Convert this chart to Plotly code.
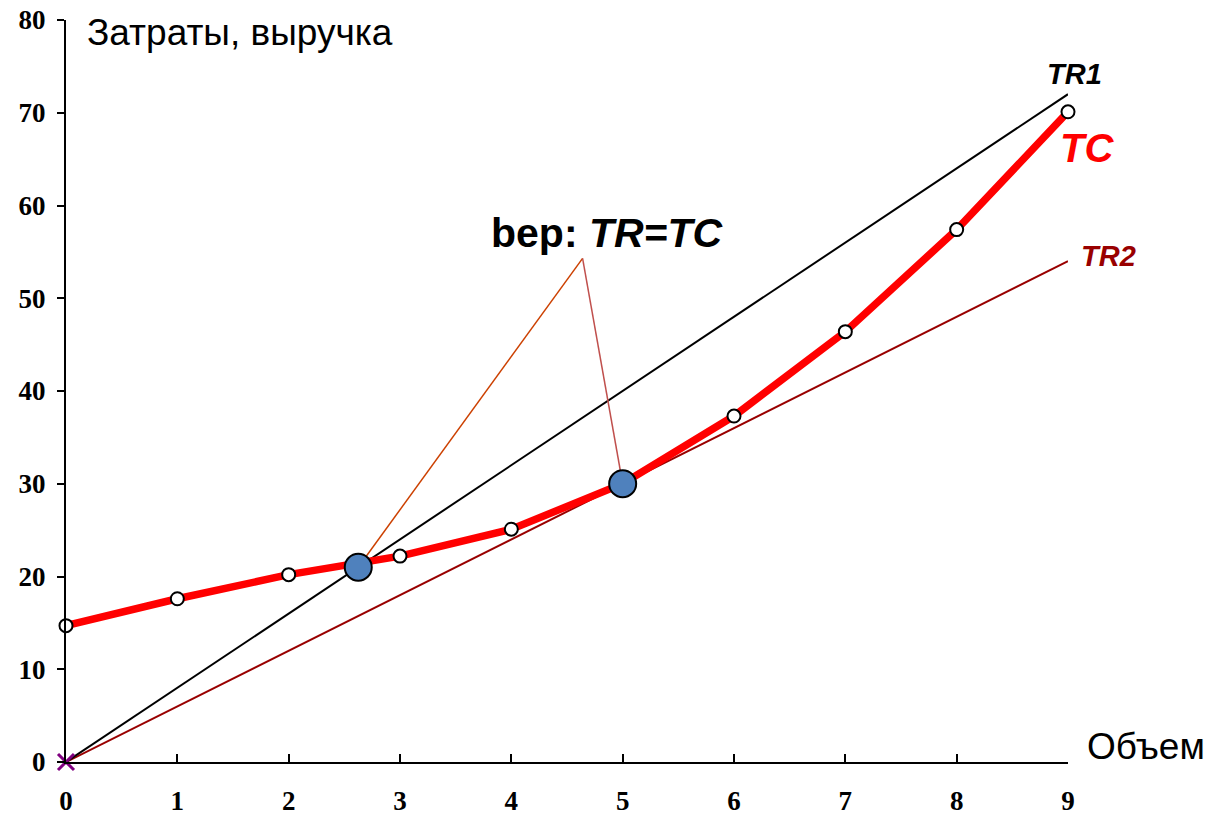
import plotly.graph_objects as go

# Output volume and cost / revenue values
volume = [0, 1, 2, 3, 4, 5, 6, 7, 8, 9]
total_cost = [14.7, 17.6, 20.2, 22.2, 25.1, 30.0, 37.3, 46.4, 57.4, 70.1]
tr1 = [0, 8, 16, 24, 32, 40, 48, 56, 64, 72]
tr2 = [0, 6, 12, 18, 24, 30, 36, 42, 48, 54]

# Break-even points
bep_x = [2.625, 5.0]
bep_y = [21.0, 30.0]

# Label anchor for the pointer lines
label_pt = (4.64, 54.3)

x_ticks = [0, 1, 2, 3, 4, 5, 6, 7, 8, 9]
y_ticks = [0, 10, 20, 30, 40, 50, 60, 70, 80]
X_MAX, Y_MAX = 9, 80

fig = go.Figure()

fig.add_trace(go.Scatter(x=volume, y=tr2, mode="lines",
                         line=dict(color="#990000", width=2), hoverinfo="skip"))
fig.add_trace(go.Scatter(x=volume, y=tr1, mode="lines",
                         line=dict(color="black", width=2), hoverinfo="skip"))
fig.add_trace(go.Scatter(x=volume, y=total_cost, mode="lines+markers",
                         line=dict(color="#FF0000", width=7.5),
                         marker=dict(size=13, color="white",
                                     line=dict(color="black", width=2)),
                         cliponaxis=False))

# Pointer lines from the label to both break-even points
fig.add_trace(go.Scatter(x=[label_pt[0], bep_x[0]], y=[label_pt[1], bep_y[0]],
                         mode="lines", line=dict(color="#CC4000", width=1.5)))
fig.add_trace(go.Scatter(x=[label_pt[0], bep_x[1]], y=[label_pt[1], bep_y[1]],
                         mode="lines", line=dict(color="#C0504D", width=1.5)))

fig.add_trace(go.Scatter(x=bep_x, y=bep_y, mode="markers",
                         marker=dict(size=27, color="#4F81BD",
                                     line=dict(color="black", width=2))))

fig.add_trace(go.Scatter(x=[0], y=[0], mode="markers", cliponaxis=False,
                         marker=dict(symbol="x-thin", size=16,
                                     line=dict(color="#800080", width=3))))

ann_font = "Liberation Sans, Arial, sans-serif"


def label(x, y, text, size, color, anchor="center"):
    # positioned in paper units so labels beyond the axis range still show
    return dict(x=x / X_MAX, y=y / Y_MAX, xref="paper", yref="paper",
                text=text, showarrow=False, xanchor=anchor, yanchor="middle",
                font=dict(size=size, color=color, family=ann_font))


annotations = [
    label(0.17, 78.7, "Затраты, выручка", 37, "black", "left"),
    label(9.15, 1.7, "Объем", 37, "black", "left"),
    label(9.06, 74.2, "<b><i>TR1</i></b>", 29, "black"),
    label(9.17, 66.2, "<b><i>TC</i></b>", 40, "#FF0000"),
    label(9.36, 54.6, "<b><i>TR2</i></b>", 29, "#990000"),
    label(4.86, 57.0, "<b>bep:&nbsp;<i>TR=TC</i></b>", 41, "black"),
]
fig.update_layout(annotations=annotations)

tick_font = dict(family="Liberation Serif, Times New Roman, serif", size=27, color="black")
fig.update_xaxes(range=[0, X_MAX], tickvals=x_ticks, ticktext=[f"<b>{v}</b>" for v in x_ticks],
                 showgrid=False, zeroline=False, showline=True, linecolor="black",
                 linewidth=2, ticks="inside", ticklen=8, tickwidth=2, tickcolor="black",
                 tickfont=tick_font, ticklabelstandoff=14, automargin=False)
fig.update_yaxes(range=[0, Y_MAX], tickvals=y_ticks, ticktext=[f"<b>{v}</b>" for v in y_ticks],
                 showgrid=False, zeroline=False, showline=True, linecolor="black",
                 linewidth=2, ticks="outside", ticklen=7, tickwidth=2, tickcolor="black",
                 tickfont=tick_font, ticklabelstandoff=6, automargin=False)

fig.update_layout(width=1206, height=816, showlegend=False,
                  plot_bgcolor="white", paper_bgcolor="white",
                  margin=dict(l=66, r=138, t=20, b=54))

fig.write_html("out.html")
